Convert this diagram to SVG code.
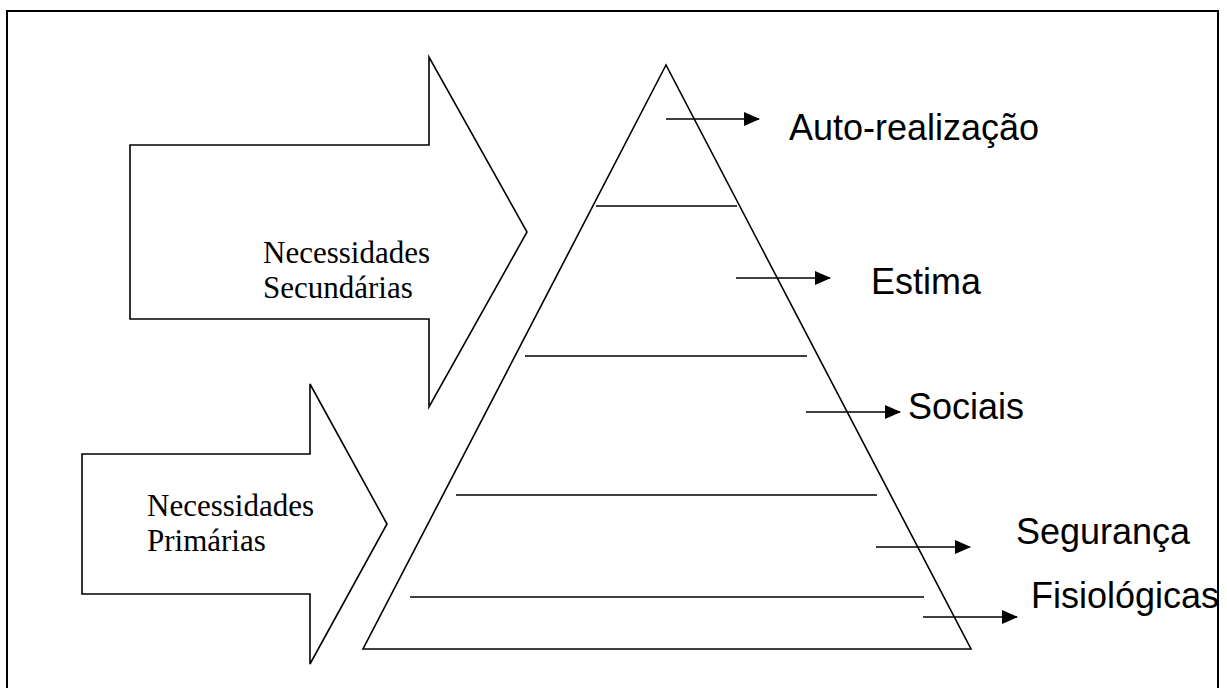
<svg xmlns="http://www.w3.org/2000/svg" width="1227" height="688" viewBox="0 0 1227 688">
<defs>
<marker id="ah" markerWidth="16" markerHeight="14" refX="15" refY="7" orient="auto" markerUnits="userSpaceOnUse">
<path d="M0,0 L16,7 L0,14 Z" fill="#000"/>
</marker>
<style>
.sh{fill:#fff;stroke:#000;stroke-width:1.6}
.ln{stroke:#000;stroke-width:1.6;fill:none}
.con{stroke:#000;stroke-width:1.6;fill:none;marker-end:url(#ah)}
.serif{font-family:"Liberation Serif","Times New Roman",serif;font-size:31px;fill:#000}
.sans{font-family:"Liberation Sans",Arial,sans-serif;font-size:36px;fill:#000}
</style>
</defs>
<rect width="1227" height="688" fill="#fff"/>
<rect x="7" y="11" width="1211" height="700" fill="none" stroke="#000" stroke-width="2"/>
<g id="arrow-secundarias">
<path class="sh" d="M130,145 H429 V57 L527,232 L429,407 V319 H130 Z"/>
<text class="serif" x="263" y="263">Necessidades</text>
<text class="serif" x="263" y="298">Secundárias</text>
</g>
<g id="arrow-primarias">
<path class="sh" d="M82,454 H310 V384 L387,524 L310,664 V594 H82 Z"/>
<text class="serif" x="147" y="516">Necessidades</text>
<text class="serif" x="147" y="551">Primárias</text>
</g>
<g id="pyramid">
<path class="sh" d="M666,65 L363,649 L971,649 Z"/>
<line class="ln" x1="596" y1="206" x2="737" y2="206"/>
<line class="ln" x1="525" y1="356" x2="807" y2="356"/>
<line class="ln" x1="456" y1="495" x2="877" y2="495"/>
<line class="ln" x1="410" y1="597" x2="924" y2="597"/>
</g>
<g id="connectors">
<line class="con" x1="666" y1="119" x2="759" y2="119"/>
<line class="con" x1="736" y1="278" x2="830" y2="278"/>
<line class="con" x1="806" y1="412" x2="900" y2="412"/>
<line class="con" x1="876" y1="547" x2="970" y2="547"/>
<line class="con" x1="923" y1="617" x2="1017" y2="617"/>
</g>
<g id="label-auto"><text class="sans" x="789" y="140">Auto-realização</text></g>
<g id="label-estima"><text class="sans" x="871" y="294">Estima</text></g>
<g id="label-sociais"><text class="sans" x="908" y="419">Sociais</text></g>
<g id="label-seguranca"><text class="sans" x="1016" y="544">Segurança</text></g>
<g id="label-fisiologicas"><text class="sans" x="1031" y="608">Fisiológicas</text></g>
</svg>
